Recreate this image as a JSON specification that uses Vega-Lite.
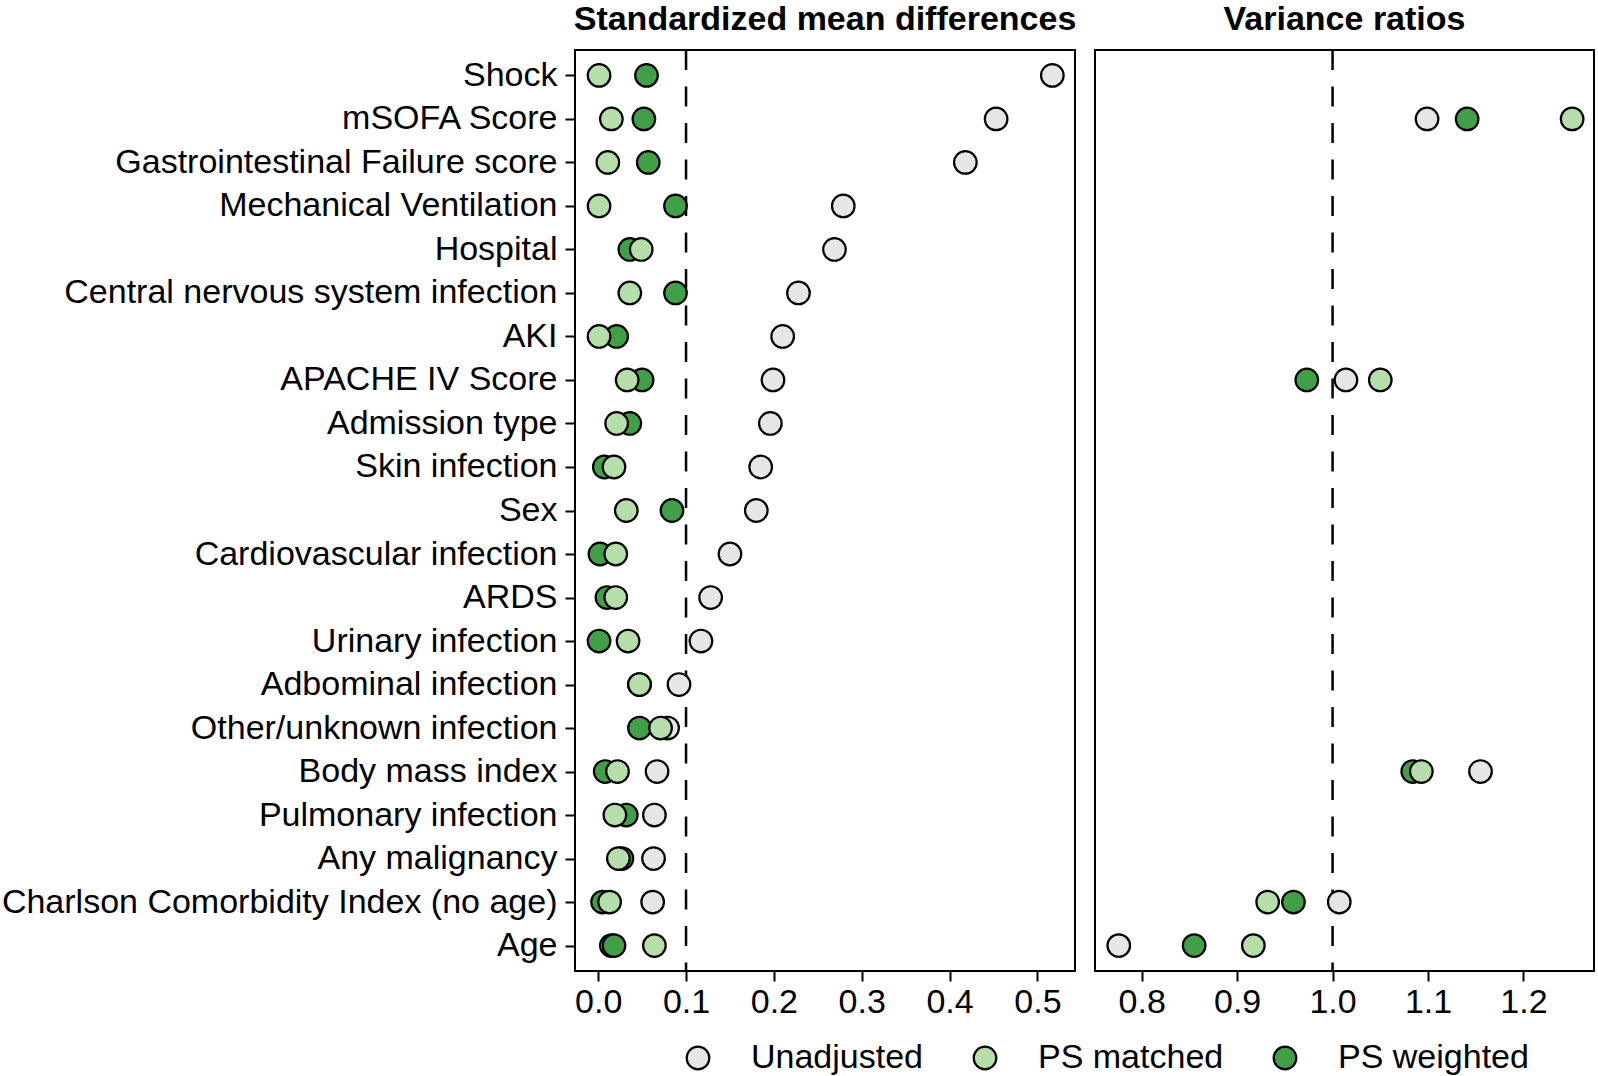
{
  "$schema": "https://vega.github.io/schema/vega-lite/v6.json",
  "padding": {"left": 0, "top": 1, "right": 0, "bottom": 0},
  "background": "white",
  "spacing": 16,
  "config": {
    "font": "Liberation Sans",
    "view": {"stroke": "black", "strokeWidth": 2},
    "axis": {"labelFont": "Liberation Sans", "labelFontSize": 34, "labelColor": "black", "tickColor": "black", "tickWidth": 2, "tickSize": 10, "domain": false, "grid": false, "title": null, "labelLimit": 0},
    "title": {"font": "Liberation Sans", "fontSize": 34, "fontWeight": "bold", "color": "black", "anchor": "middle", "frame": "group", "offset": 12},
    "legend": {"labelFont": "Liberation Sans", "labelFontSize": 34, "labelColor": "black", "padding": 0, "symbolSize": 510, "symbolStrokeWidth": 2.2, "symbolStrokeColor": "black", "symbolType": "circle", "symbolOpacity": 1, "labelOffset": 36, "columnPadding": 44, "labelLimit": 0}
  },
  "resolve": {"scale": {"color": "shared"}, "legend": {"color": "shared"}},
  "data": {"values": [
    {"var": "Shock", "method": "Unadjusted", "smd": 0.517, "vr": null},
    {"var": "mSOFA Score", "method": "Unadjusted", "smd": 0.453, "vr": 1.099},
    {"var": "Gastrointestinal Failure score", "method": "Unadjusted", "smd": 0.418, "vr": null},
    {"var": "Mechanical Ventilation", "method": "Unadjusted", "smd": 0.279, "vr": null},
    {"var": "Hospital", "method": "Unadjusted", "smd": 0.269, "vr": null},
    {"var": "Central nervous system infection", "method": "Unadjusted", "smd": 0.228, "vr": null},
    {"var": "AKI", "method": "Unadjusted", "smd": 0.210, "vr": null},
    {"var": "APACHE IV Score", "method": "Unadjusted", "smd": 0.199, "vr": 1.014},
    {"var": "Admission type", "method": "Unadjusted", "smd": 0.196, "vr": null},
    {"var": "Skin infection", "method": "Unadjusted", "smd": 0.185, "vr": null},
    {"var": "Sex", "method": "Unadjusted", "smd": 0.180, "vr": null},
    {"var": "Cardiovascular infection", "method": "Unadjusted", "smd": 0.150, "vr": null},
    {"var": "ARDS", "method": "Unadjusted", "smd": 0.128, "vr": null},
    {"var": "Urinary infection", "method": "Unadjusted", "smd": 0.117, "vr": null},
    {"var": "Adbominal infection", "method": "Unadjusted", "smd": 0.092, "vr": null},
    {"var": "Other/unknown infection", "method": "Unadjusted", "smd": 0.079, "vr": null},
    {"var": "Body mass index", "method": "Unadjusted", "smd": 0.067, "vr": 1.155},
    {"var": "Pulmonary infection", "method": "Unadjusted", "smd": 0.064, "vr": null},
    {"var": "Any malignancy", "method": "Unadjusted", "smd": 0.063, "vr": null},
    {"var": "Charlson Comorbidity Index (no age)", "method": "Unadjusted", "smd": 0.062, "vr": 1.007},
    {"var": "Age", "method": "Unadjusted", "smd": 0.015, "vr": 0.776},
    {"var": "Shock", "method": "PS weighted", "smd": 0.055, "vr": null},
    {"var": "mSOFA Score", "method": "PS weighted", "smd": 0.052, "vr": 1.141},
    {"var": "Gastrointestinal Failure score", "method": "PS weighted", "smd": 0.057, "vr": null},
    {"var": "Mechanical Ventilation", "method": "PS weighted", "smd": 0.088, "vr": null},
    {"var": "Hospital", "method": "PS weighted", "smd": 0.036, "vr": null},
    {"var": "Central nervous system infection", "method": "PS weighted", "smd": 0.088, "vr": null},
    {"var": "AKI", "method": "PS weighted", "smd": 0.021, "vr": null},
    {"var": "APACHE IV Score", "method": "PS weighted", "smd": 0.050, "vr": 0.973},
    {"var": "Admission type", "method": "PS weighted", "smd": 0.036, "vr": null},
    {"var": "Skin infection", "method": "PS weighted", "smd": 0.007, "vr": null},
    {"var": "Sex", "method": "PS weighted", "smd": 0.084, "vr": null},
    {"var": "Cardiovascular infection", "method": "PS weighted", "smd": 0.002, "vr": null},
    {"var": "ARDS", "method": "PS weighted", "smd": 0.010, "vr": null},
    {"var": "Urinary infection", "method": "PS weighted", "smd": 0.001, "vr": null},
    {"var": "Adbominal infection", "method": "PS weighted", "smd": 0.047, "vr": null},
    {"var": "Other/unknown infection", "method": "PS weighted", "smd": 0.047, "vr": null},
    {"var": "Body mass index", "method": "PS weighted", "smd": 0.008, "vr": 1.084},
    {"var": "Pulmonary infection", "method": "PS weighted", "smd": 0.032, "vr": null},
    {"var": "Any malignancy", "method": "PS weighted", "smd": 0.027, "vr": null},
    {"var": "Charlson Comorbidity Index (no age)", "method": "PS weighted", "smd": 0.005, "vr": 0.959},
    {"var": "Age", "method": "PS weighted", "smd": 0.018, "vr": 0.855},
    {"var": "Shock", "method": "PS matched", "smd": 0.001, "vr": null},
    {"var": "mSOFA Score", "method": "PS matched", "smd": 0.015, "vr": 1.251},
    {"var": "Gastrointestinal Failure score", "method": "PS matched", "smd": 0.011, "vr": null},
    {"var": "Mechanical Ventilation", "method": "PS matched", "smd": 0.001, "vr": null},
    {"var": "Hospital", "method": "PS matched", "smd": 0.049, "vr": null},
    {"var": "Central nervous system infection", "method": "PS matched", "smd": 0.036, "vr": null},
    {"var": "AKI", "method": "PS matched", "smd": 0.001, "vr": null},
    {"var": "APACHE IV Score", "method": "PS matched", "smd": 0.033, "vr": 1.050},
    {"var": "Admission type", "method": "PS matched", "smd": 0.021, "vr": null},
    {"var": "Skin infection", "method": "PS matched", "smd": 0.018, "vr": null},
    {"var": "Sex", "method": "PS matched", "smd": 0.032, "vr": null},
    {"var": "Cardiovascular infection", "method": "PS matched", "smd": 0.020, "vr": null},
    {"var": "ARDS", "method": "PS matched", "smd": 0.020, "vr": null},
    {"var": "Urinary infection", "method": "PS matched", "smd": 0.034, "vr": null},
    {"var": "Adbominal infection", "method": "PS matched", "smd": 0.047, "vr": null},
    {"var": "Other/unknown infection", "method": "PS matched", "smd": 0.071, "vr": null},
    {"var": "Body mass index", "method": "PS matched", "smd": 0.022, "vr": 1.093},
    {"var": "Pulmonary infection", "method": "PS matched", "smd": 0.019, "vr": null},
    {"var": "Any malignancy", "method": "PS matched", "smd": 0.023, "vr": null},
    {"var": "Charlson Comorbidity Index (no age)", "method": "PS matched", "smd": 0.013, "vr": 0.932},
    {"var": "Age", "method": "PS matched", "smd": 0.064, "vr": 0.917}
  ]},
  "hconcat": [
    {
      "width": 500,
      "height": 921,
      "title": "Standardized mean differences",
      "layer": [
        {
          "data": {"values": [{"ref": 0.1}]},
          "mark": {"type": "rule", "strokeDash": [20, 16.5], "strokeWidth": 2.5, "color": "black"},
          "encoding": {"x": {"field": "ref", "type": "quantitative", "scale": {"domain": [-0.0264, 0.5428], "nice": false, "zero": false}}}
        },
        {
          "mark": {"type": "circle", "size": 510, "opacity": 1, "stroke": "black", "strokeWidth": 2.2},
          "encoding": {
            "x": {"field": "smd", "type": "quantitative", "scale": {"domain": [-0.0264, 0.5428], "nice": false, "zero": false}, "axis": {"values": [0, 0.1, 0.2, 0.3, 0.4, 0.5], "format": ".1f", "labelPadding": 4}},
            "y": {"field": "var", "type": "nominal", "sort": null, "scale": {"domain": ["Shock", "mSOFA Score", "Gastrointestinal Failure score", "Mechanical Ventilation", "Hospital", "Central nervous system infection", "AKI", "APACHE IV Score", "Admission type", "Skin infection", "Sex", "Cardiovascular infection", "ARDS", "Urinary infection", "Adbominal infection", "Other/unknown infection", "Body mass index", "Pulmonary infection", "Any malignancy", "Charlson Comorbidity Index (no age)", "Age"], "padding": 0.584}, "axis": {"labelPadding": 8, "minExtent": 573, "maxExtent": 573}},
            "color": {"field": "method", "type": "nominal", "scale": {"domain": ["Unadjusted", "PS matched", "PS weighted"], "range": ["#e6e6e6", "#b6deab", "#41a047"]}, "legend": {"orient": "none", "legendX": 106, "legendY": 991, "direction": "horizontal", "title": null}}
          }
        }
      ]
    },
    {
      "width": 499,
      "height": 921,
      "title": "Variance ratios",
      "layer": [
        {
          "data": {"values": [{"ref": 1.0}]},
          "mark": {"type": "rule", "strokeDash": [20, 16.5], "strokeWidth": 2.5, "color": "black"},
          "encoding": {"x": {"field": "ref", "type": "quantitative", "scale": {"domain": [0.7511, 1.2739], "nice": false, "zero": false}}}
        },
        {
          "transform": [{"filter": "isValid(datum.vr)"}],
          "mark": {"type": "circle", "size": 510, "opacity": 1, "stroke": "black", "strokeWidth": 2.2},
          "encoding": {
            "x": {"field": "vr", "type": "quantitative", "scale": {"domain": [0.7511, 1.2739], "nice": false, "zero": false}, "axis": {"values": [0.8, 0.9, 1.0, 1.1, 1.2], "format": ".1f", "labelPadding": 4}},
            "y": {"field": "var", "type": "nominal", "sort": null, "scale": {"domain": ["Shock", "mSOFA Score", "Gastrointestinal Failure score", "Mechanical Ventilation", "Hospital", "Central nervous system infection", "AKI", "APACHE IV Score", "Admission type", "Skin infection", "Sex", "Cardiovascular infection", "ARDS", "Urinary infection", "Adbominal infection", "Other/unknown infection", "Body mass index", "Pulmonary infection", "Any malignancy", "Charlson Comorbidity Index (no age)", "Age"], "padding": 0.584}, "axis": {"labels": false, "ticks": false, "minExtent": 0, "maxExtent": 0}},
            "color": {"field": "method", "type": "nominal", "scale": {"domain": ["Unadjusted", "PS matched", "PS weighted"], "range": ["#e6e6e6", "#b6deab", "#41a047"]}, "legend": {"orient": "none", "legendX": 106, "legendY": 991, "direction": "horizontal", "title": null}}
          }
        }
      ]
    }
  ]
}
